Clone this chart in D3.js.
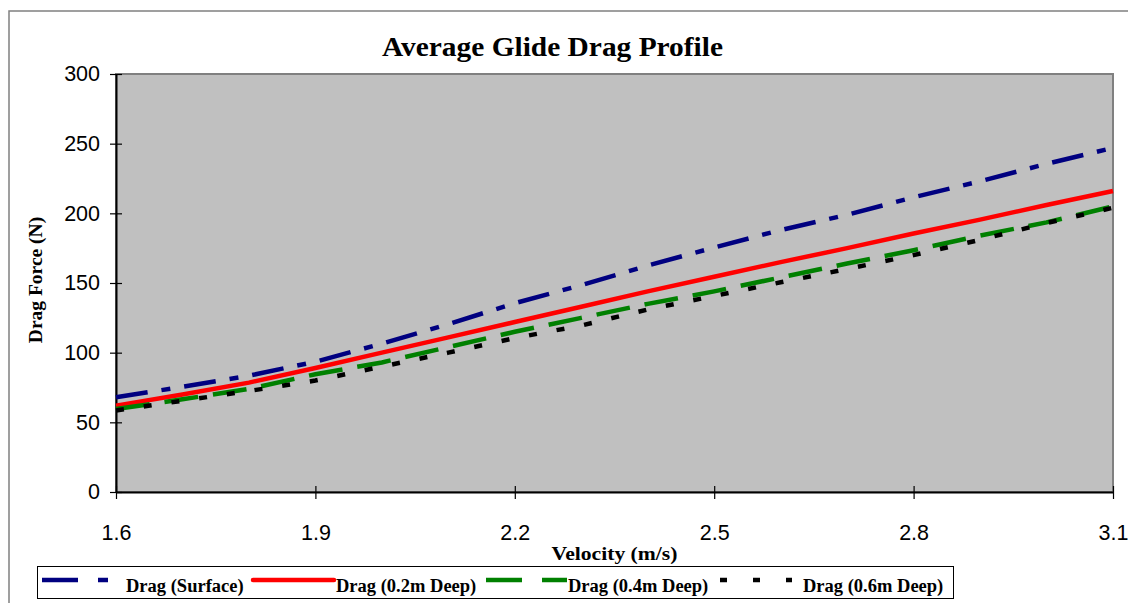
<!DOCTYPE html>
<html>
<head>
<meta charset="utf-8">
<script src="https://d3js.org/d3.v7.min.js"></script>
<style>
  body { margin: 0; background: #fff; }
  svg { display: block; }
</style>
</head>
<body>
<div id="chart"></div>
<script>
// chart values
var velocity = [1.6, 1.7, 1.8, 1.9, 2.0, 2.1, 2.2, 2.3, 2.4, 2.5, 2.6, 2.7, 2.8, 2.9, 3.0, 3.1];
var dragSurface = [68, 75.5, 83.5, 93.5, 106.5, 120.5, 135.5, 148.5, 162.5, 175.5, 188, 199, 211.5, 223, 235.5, 247];
var drag02 = [62, 70, 78.5, 89, 100, 111, 122, 133, 144, 154.5, 165, 175, 185.5, 195.5, 206, 216];
var drag04 = [59.5, 66.5, 74, 84.5, 93, 104, 115, 125, 135, 144, 154, 164, 173.5, 184, 193.5, 205];
var drag06 = [58.5, 65.5, 72.5, 80, 90, 100, 110.5, 119.5, 131, 140.7, 150.5, 160, 170, 181, 193, 204];
var seriesNames = ["Drag (Surface)", "Drag (0.2m Deep)", "Drag (0.4m Deep)", "Drag (0.6m Deep)"];
var xTicks = [1.6, 1.9, 2.2, 2.5, 2.8, 3.1];
var yTicks = [0, 50, 100, 150, 200, 250, 300];

var svgWidth = 1128;
var svgHeight = 603;

var margin = { top: 74, right: 15, bottom: 111, left: 116 };
var width = svgWidth - margin.left - margin.right;
var height = svgHeight - margin.top - margin.bottom;

var svg = d3.select("#chart")
  .append("svg")
  .attr("width", svgWidth)
  .attr("height", svgHeight);

// outer chart frame (runs off the right and bottom)
svg.append("rect")
  .attr("x", 9)
  .attr("y", 11)
  .attr("width", 1140)
  .attr("height", 620)
  .attr("fill", "#fff")
  .attr("stroke", "#808080")
  .attr("stroke-width", 1.5);

svg.append("text")
  .attr("x", 552.5)
  .attr("y", 56)
  .attr("text-anchor", "middle")
  .attr("font-family", "Liberation Serif, Times New Roman, serif")
  .attr("font-weight", "bold")
  .attr("font-size", 28)
  .attr("textLength", 341)
  .attr("lengthAdjust", "spacingAndGlyphs")
  .text("Average Glide Drag Profile");

var chartGroup = svg.append("g")
  .attr("transform", `translate(${margin.left}, ${margin.top})`);

var xLinearScale = d3.scaleLinear().domain([1.6, 3.1]).range([0, width]);
var yLinearScale = d3.scaleLinear().domain([0, 300]).range([height, 0]);

// plot area
chartGroup.append("rect")
  .attr("width", width)
  .attr("height", height)
  .attr("fill", "#c0c0c0")
  .attr("stroke", "#808080")
  .attr("stroke-width", 2);

// axes
var bottomAxis = d3.axisBottom(xLinearScale)
  .tickValues(xTicks)
  .tickFormat(d3.format(".1f"))
  .tickSizeInner(6)
  .tickSizeOuter(0)
  .tickPadding(27);
var leftAxis = d3.axisLeft(yLinearScale)
  .tickValues(yTicks)
  .tickSizeInner(6)
  .tickSizeOuter(0)
  .tickPadding(10);

var xAxis = chartGroup.append("g")
  .attr("transform", `translate(0, ${height})`)
  .call(bottomAxis);
var yAxis = chartGroup.append("g")
  .call(leftAxis);

[xAxis, yAxis].forEach(function(ax) {
  ax.select(".domain").attr("stroke", "#000").attr("stroke-width", 2);
  ax.selectAll(".tick line").attr("stroke", "#000").attr("stroke-width", 1.2);
  ax.selectAll(".tick text")
    .attr("fill", "#000")
    .attr("font-family", "Liberation Sans, Arial, sans-serif")
    .attr("font-size", 21.5);
});
// ticks cross the axis lines
xAxis.selectAll(".tick line").attr("y1", -6).attr("y2", 7);
yAxis.selectAll(".tick line").attr("x1", 6).attr("x2", -6);

// axis titles
svg.append("text")
  .attr("x", 614.5)
  .attr("y", 560)
  .attr("text-anchor", "middle")
  .attr("font-family", "Liberation Serif, Times New Roman, serif")
  .attr("font-weight", "bold")
  .attr("font-size", 19)
  .attr("textLength", 126)
  .attr("lengthAdjust", "spacingAndGlyphs")
  .text("Velocity (m/s)");

svg.append("text")
  .attr("transform", "translate(42, 280) rotate(-90)")
  .attr("text-anchor", "middle")
  .attr("font-family", "Liberation Serif, Times New Roman, serif")
  .attr("font-weight", "bold")
  .attr("font-size", 19.5)
  .text("Drag Force (N)");

// series
var seriesValues = [dragSurface, drag02, drag04, drag06];
var seriesColors = ["#000080", "#ff0000", "#008000", "#000000"];
var seriesDash = ["32,14,9,14", null, "34,15", "8,20"];

var line = d3.line()
  .x(function(d) { return xLinearScale(d[0]); })
  .y(function(d) { return yLinearScale(d[1]); });

seriesValues.forEach(function(vals, i) {
  var pts = velocity.map(function(v, j) { return [v, vals[j]]; });
  chartGroup.append("path")
    .datum(pts)
    .attr("fill", "none")
    .attr("stroke", seriesColors[i])
    .attr("stroke-width", 4.5)
    .attr("stroke-dasharray", seriesDash[i])
    .attr("d", line);
});

// legend
var legend = svg.append("g");
legend.append("rect")
  .attr("x", 37.5)
  .attr("y", 566.5)
  .attr("width", 916)
  .attr("height", 32)
  .attr("fill", "#fff")
  .attr("stroke", "#000")
  .attr("stroke-width", 1);

var legendSample = [[42, 108], [253, 334], [486, 567], [720, 792]];
var legendDash = ["36,20,10,100", null, "36,20", "7,26"];
var legendText = [126, 336, 568, 803];

seriesNames.forEach(function(name, i) {
  legend.append("line")
    .attr("x1", legendSample[i][0])
    .attr("x2", legendSample[i][1])
    .attr("y1", 580)
    .attr("y2", 580)
    .attr("stroke", seriesColors[i])
    .attr("stroke-width", 4.5)
    .attr("stroke-linecap", i === 1 ? "round" : "butt")
    .attr("stroke-dasharray", legendDash[i]);
  legend.append("text")
    .attr("x", legendText[i])
    .attr("y", 592)
    .attr("font-family", "Liberation Serif, Times New Roman, serif")
    .attr("font-weight", "bold")
    .attr("font-size", 18.5)
    .text(name);
});
</script>
</body>
</html>
